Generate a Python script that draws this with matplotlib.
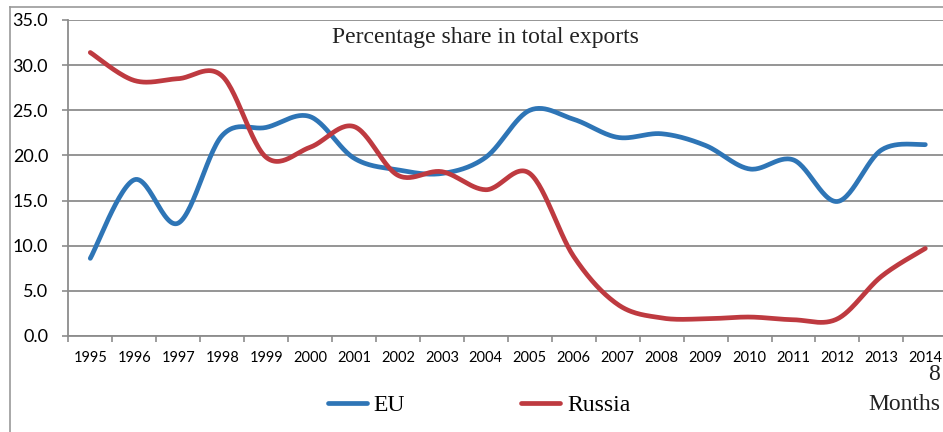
import matplotlib
matplotlib.use('Agg')
import matplotlib.pyplot as plt
from matplotlib.lines import Line2D
import numpy as np

years = [str(y) for y in range(1995, 2015)]
eu = [8.6, 17.3, 12.5, 22.2, 23.1, 24.3, 19.7, 18.4, 18.0, 19.8,
      25.0, 24.0, 22.0, 22.4, 21.1, 18.5, 19.5, 14.9, 20.6, 21.2]
russia = [31.4, 28.3, 28.5, 28.8, 19.8, 20.9, 23.2, 17.8, 18.2, 16.2,
          18.0, 8.8, 3.5, 2.0, 1.9, 2.1, 1.8, 1.9, 6.6, 9.7]


def smooth(y, n=30):
    # Excel-style smoothed line (Catmull-Rom via cubic Bezier)
    x = np.arange(len(y), dtype=float)
    y = np.asarray(y, dtype=float)
    px = np.concatenate([[x[0]], x, [x[-1]]])
    py = np.concatenate([[y[0]], y, [y[-1]]])
    t = np.linspace(0, 1, n)[:, None]
    xs, ys = [], []
    for i in range(len(y) - 1):
        p0 = np.array([px[i + 1], py[i + 1]])
        p3 = np.array([px[i + 2], py[i + 2]])
        c1 = p0 + (p3 - np.array([px[i], py[i]])) / 6
        c2 = p3 - (np.array([px[i + 3], py[i + 3]]) - p0) / 6
        b = ((1 - t) ** 3) * p0 + 3 * ((1 - t) ** 2) * t * c1 + 3 * (1 - t) * t ** 2 * c2 + t ** 3 * p3
        xs.append(b[:, 0])
        ys.append(b[:, 1])
    return np.concatenate(xs), np.concatenate(ys)


fig = plt.figure(figsize=(9.43, 4.32), dpi=100)
ax = fig.add_axes([68.3 / 943, 1 - 336 / 432, 879 / 943, 316 / 432])

grey = '#8c8c8c'
blue = '#2E75B6'
red = '#BE3A40'

ex, ey = smooth(eu)
rx, ry = smooth(russia)
ax.plot(ex, ey, color=blue, lw=3.4, solid_capstyle='round', label='EU', zorder=3)
ax.plot(rx, ry, color=red, lw=3.4, solid_capstyle='round', label='Russia', zorder=3)

ax.set_xlim(-0.5, len(years) - 0.5)
ax.set_ylim(0, 35)
ax.set_yticks(np.arange(0, 36, 5))
ax.set_yticklabels(['%.1f' % v for v in np.arange(0, 36, 5)], family='Lato', fontsize=13)
ax.set_xticks(range(len(years)))
ax.set_xticklabels(years, family='Lato', fontsize=10.5)
ax.set_xticks(np.arange(-0.5, len(years), 1), minor=True)
ax.tick_params(axis='x', which='major', length=0, pad=11)
ax.tick_params(axis='x', which='minor', length=4, color=grey, width=1.2)
ax.tick_params(axis='y', length=4.5, color=grey, width=1.2, pad=10)

ax.yaxis.grid(True, color=grey, lw=1.3)
ax.set_axisbelow(True)
for s in ['top', 'right']:
    ax.spines[s].set_visible(False)
for s in ['left', 'bottom']:
    ax.spines[s].set_color(grey)
    ax.spines[s].set_linewidth(1.3)

ax.text(0.30, 0.945, 'Percentage share in total exports', transform=ax.transAxes,
        family='Liberation Serif', fontsize=17, color='#222222', va='center', ha='left')

fig.legend(loc='center', bbox_to_anchor=(0.508, 1 - 405 / 432), ncol=2, frameon=False,
           prop={'family': 'Liberation Serif', 'size': 17}, handlelength=1.65,
           handletextpad=0.3, columnspacing=4.9)
fig.text(940 / 943, 1 - 405 / 432, 'Months', family='Liberation Serif', fontsize=17,
         ha='right', va='center', color='#222222')
fig.text(940 / 943, 1 - 375 / 432, '8', family='Liberation Serif', fontsize=17,
         ha='right', va='center', color='#222222')

# outer frame of the chart area
fig.add_artist(Line2D([10 / 943, 1], [1 - 6.5 / 432, 1 - 6.5 / 432], color='#999999', lw=1.2))
fig.add_artist(Line2D([10 / 943, 10 / 943], [0, 1 - 6.5 / 432], color='#999999', lw=1.2))

fig.savefig('out.png', dpi=100)
